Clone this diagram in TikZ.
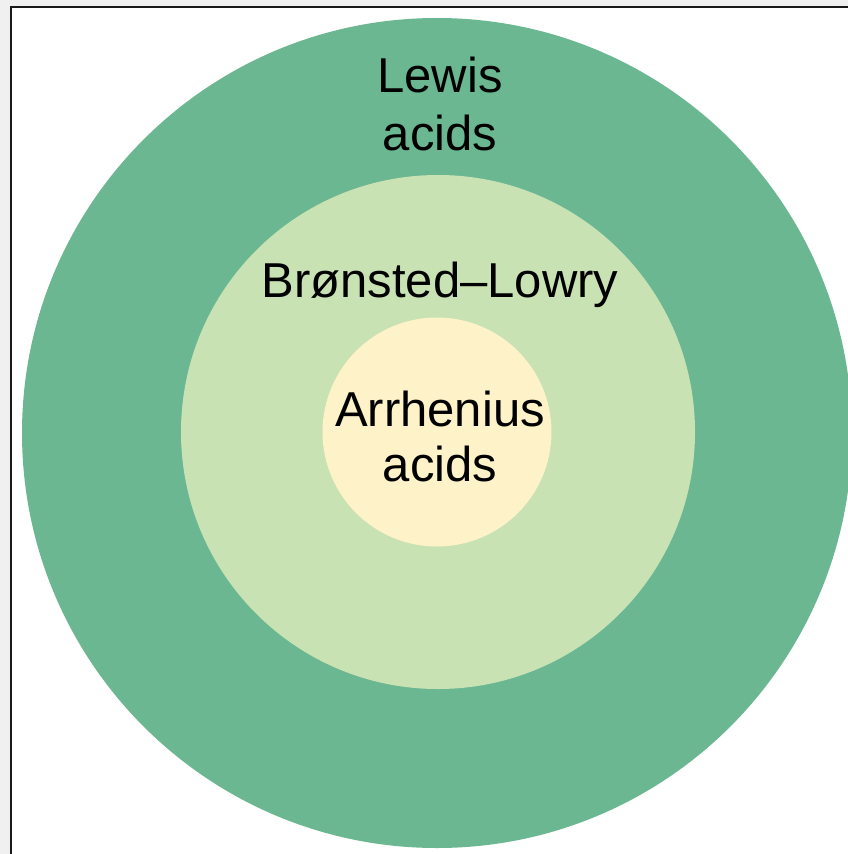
\documentclass[tikz,border=0pt]{standalone}
\usepackage{fontspec}
\setmainfont{Liberation Sans}
\definecolor{outerg}{HTML}{6BB792}
\definecolor{midg}{HTML}{C9E2B3}
\definecolor{innery}{HTML}{FDF2C8}
\definecolor{margin}{HTML}{F0F0F0}
\begin{document}
\begin{tikzpicture}[x=1pt,y=-1pt,
  ring/.style={circle,inner sep=0pt,draw=none},
  lbl/.style={anchor=base,inner sep=0pt,font=\fontsize{49}{58}\selectfont}]
\useasboundingbox (0,0) rectangle (848,854);
\fill[margin] (0,0) rectangle (848,854);
\fill[white] (11,7) rectangle (848,854);
\draw[line width=2.5pt,black!90] (11,854) -- (11,7) -- (848,7);
\begin{scope}
\clip (12.5,8.5) rectangle (848,854);
\node[ring,fill=outerg,minimum size=830pt] (lewis) at (437,433) {};
\node[ring,fill=midg,minimum size=514pt] (bronsted) at (438,432) {};
\node[ring,fill=innery,minimum size=229pt] (arrh) at (437,432) {};
\end{scope}
\node[lbl] (t1) at (440,92) {Lewis};
\node[lbl] (t2) at (440,150) {acids};
\node[lbl] (t3) at (440,297) {Brønsted–Lowry};
\node[lbl] (t4) at (440,426) {Arrhenius};
\node[lbl] (t5) at (440,481) {acids};
\end{tikzpicture}
\end{document}
